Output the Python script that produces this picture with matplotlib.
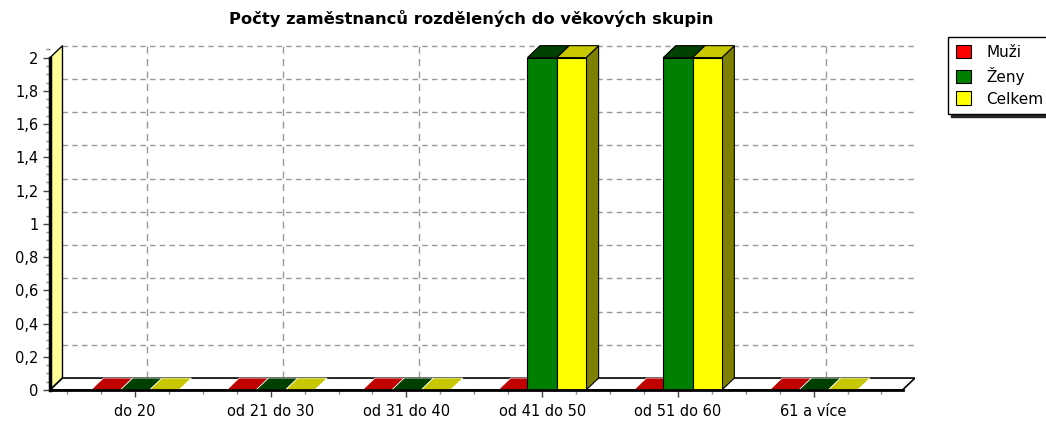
import matplotlib.pyplot as plt
from matplotlib.patches import Polygon
from matplotlib.ticker import MultipleLocator
import numpy as np

categories = ["do 20", "od 21 do 30", "od 31 do 40", "od 41 do 50", "od 51 do 60", "61 a více"]
muzi = [0, 0, 0, 0, 0, 0]
zeny = [0, 0, 0, 2, 2, 0]
celkem = [0, 0, 0, 2, 2, 0]
series = [("Muži", muzi), ("Ženy", zeny), ("Celkem", celkem)]

front_cols = ["#ff0000", "#008000", "#ffff00"]
top_cols = ["#c00000", "#004000", "#c8c800"]
side_cols = ["#800000", "#003000", "#808000"]

dx, dy = 0.092, 0.072
bw = 0.216
x0, x1 = -0.626, 5.655
ymax = 2

fig = plt.figure(figsize=(10.46, 4.21), dpi=100)
ax = fig.add_axes([50/1046, 31/421, 865/1046, 345/421])
ax.set_xlim(x0, x1 + dx)
ax.set_ylim(0, ymax + dy + 0.004)

# back plane grid
for v in np.arange(0.2, ymax + 0.01, 0.2):
    ax.plot([x0 + dx, x1 + dx], [v + dy, v + dy], color="#999999", ls=(0, (4, 3)), lw=1, zorder=1)
for i in range(len(categories)):
    ax.plot([i + dx, i + dx], [dy, ymax + dy + 0.004], color="#999999", ls=(0, (5, 4)), lw=1, zorder=1)

# left wall
ax.add_patch(Polygon([(x0, 0), (x0 + dx, dy), (x0 + dx, ymax + dy), (x0, ymax)],
                     facecolor="#ffff99", edgecolor="black", lw=1, zorder=2))
# floor
ax.add_patch(Polygon([(x0, 0), (x1, 0), (x1 + dx, dy), (x0 + dx, dy)],
                     facecolor="white", edgecolor="black", lw=1.2, zorder=2))

xs = np.arange(len(categories))
for k, (name, vals) in enumerate(series):
    for i, v in enumerate(vals):
        xl = xs[i] + (k - 1.5) * bw
        xr = xl + bw
        if v == 0:
            ax.add_patch(Polygon([(xl, 0), (xr, 0), (xr + dx, dy), (xl + dx, dy)],
                                 facecolor=top_cols[k], edgecolor="white", lw=0.5, zorder=3))
        else:
            ax.add_patch(Polygon([(xr, 0), (xr + dx, dy), (xr + dx, v + dy), (xr, v)],
                                 facecolor=side_cols[k], edgecolor="black", lw=0.8, zorder=4 + k))
            ax.add_patch(Polygon([(xl, v), (xr, v), (xr + dx, v + dy), (xl + dx, v + dy)],
                                 facecolor=top_cols[k], edgecolor="black", lw=0.8, zorder=4 + k))
            ax.bar(xl, v, width=bw, align="edge", color=front_cols[k], edgecolor="black",
                   lw=0.8, zorder=4 + k)

# legend proxies
for k, (name, vals) in enumerate(series):
    ax.bar([0], [0], color=front_cols[k], edgecolor="black", lw=0.8, label=name)

ax.spines["top"].set_visible(False)
ax.spines["right"].set_visible(False)
ax.spines["left"].set_linewidth(2.5)
ax.spines["bottom"].set_linewidth(2)
ax.spines["bottom"].set_bounds(x0, x1)
ax.spines["left"].set_bounds(0, ymax)
ax.spines["left"].set_zorder(10)
ax.spines["bottom"].set_zorder(10)

yt = np.arange(0, ymax + 0.01, 0.2)
ax.set_yticks(yt)
ax.set_yticklabels([("%g" % round(t, 1)).replace(".", ",") for t in yt])
ax.yaxis.set_minor_locator(MultipleLocator(0.05))
ax.set_xticks(xs)
ax.set_xticklabels(categories)
ax.xaxis.set_minor_locator(MultipleLocator(0.25))
ax.tick_params(axis="both", which="major", length=5, width=1, labelsize=10.5, color="#444444")
ax.tick_params(axis="both", which="minor", length=3, width=1, color="#888888")
ax.tick_params(axis="x", which="major", pad=5)

fig.text(0.45, 0.957, "Počty zaměstnanců rozdělených do věkových skupin",
         ha="center", va="center", fontsize=11.8, fontweight="bold")

leg = fig.legend(loc="upper left", bbox_to_anchor=(948/1046, 1 - 37/421), fontsize=11,
                 frameon=True, fancybox=False, shadow={"color": "0.15", "alpha": 1},
                 handlelength=1.0, handleheight=1.0,
                 handletextpad=1.0, borderpad=0.5, labelspacing=0.45, borderaxespad=0)
leg.get_frame().set_edgecolor("black")
leg.get_frame().set_linewidth(1)

fig.savefig("out.png", dpi=100)
